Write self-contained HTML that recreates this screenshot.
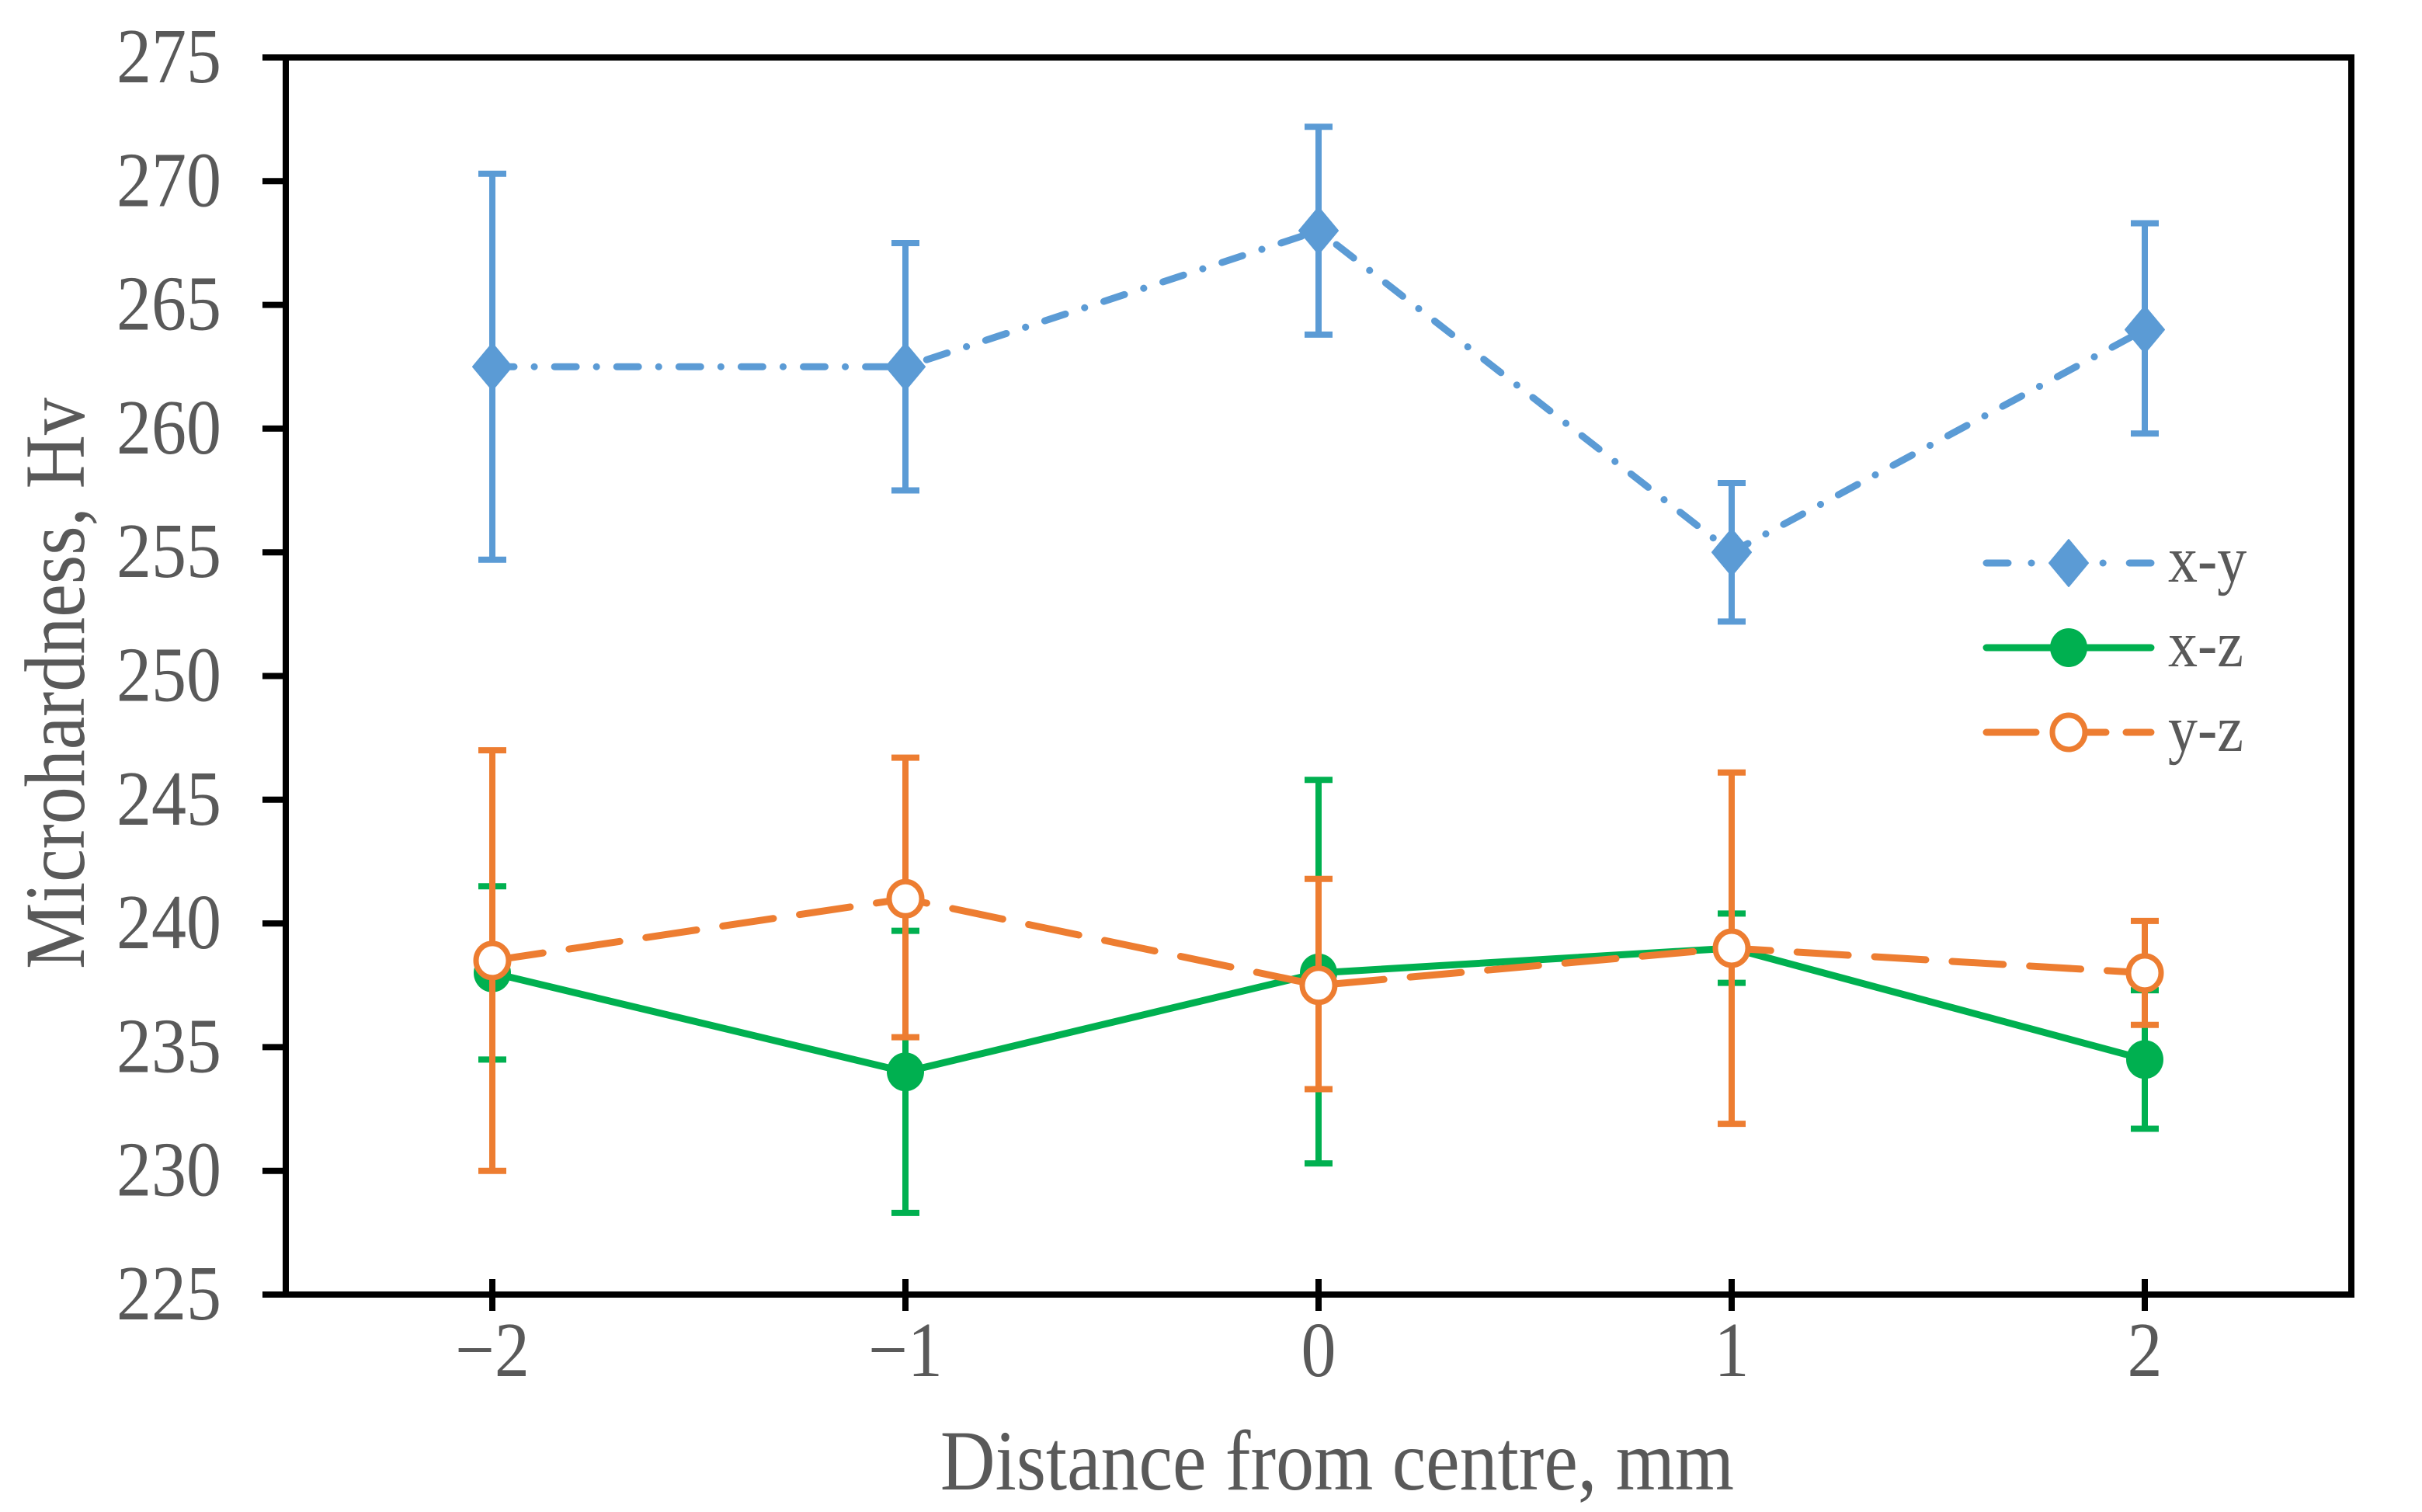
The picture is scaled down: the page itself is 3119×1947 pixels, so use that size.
<!DOCTYPE html>
<html><head><meta charset="utf-8"><style>
html,body{margin:0;padding:0;background:#fff}
svg text{font-family:"Liberation Serif","Times New Roman",serif;fill:#595959}
</style></head><body>
<svg id="chart" width="3119" height="1942" viewBox="0 0 3119 1942" xmlns="http://www.w3.org/2000/svg">
<g id="plot"></g>
</svg>
<script>
const categories=[-2,-1,0,1,2];
const xyValues=[262.5,262.5,268,255,264];
const xyLow=[254.7,257.5,263.8,252.2,259.8];
const xyHigh=[270.3,267.5,272.2,257.8,268.3];
const xzValues=[238,234,238,239,234.5];
const xzLow=[234.5,228.3,230.3,237.6,231.7];
const xzHigh=[241.5,239.7,245.8,240.4,237.3];
const yzValues=[238.5,241,237.5,239,238];
const yzLow=[230,235.4,233.3,231.9,235.9];
const yzHigh=[247,246.7,241.8,246.1,240.1];
const yTicks=[225,230,235,240,245,250,255,260,265,270,275];
const xTickLabels=["\u22122","\u22121","0","1","2"];

const L=368,R=3028,T=74,B=1667;
const xMin=-2.5,xMax=2.5,yMin=225,yMax=275;
const X=v=>L+(v-xMin)/(xMax-xMin)*(R-L);
const Y=v=>B-(v-yMin)/(yMax-yMin)*(B-T);
const NS="http://www.w3.org/2000/svg";
const g=document.getElementById('plot');
function mk(tag,attrs,parent){const e=document.createElementNS(NS,tag);for(const k in attrs)e.setAttribute(k,attrs[k]);(parent||g).appendChild(e);return e;}

const frame=mk('rect',{x:L,y:T,width:R-L,height:B-T,fill:'none',stroke:'#000','stroke-width':8});



yTicks.forEach(v=>{
  const t=mk('line',{x1:L-30,x2:L,y1:Y(v),y2:Y(v),stroke:'#000','stroke-width':8});
  
  
  const tx=mk('text',{x:0,y:0,'text-anchor':'end','font-size':90,transform:`translate(285,${Y(v)+32}) scale(1,1.12)`});
  tx.textContent=v;
  
  
});
categories.forEach((c,i)=>{
  const t=mk('line',{x1:X(c),x2:X(c),y1:B-20,y2:B+21,stroke:'#000','stroke-width':8});
  
  
  const tx=mk('text',{x:0,y:0,'text-anchor':'middle','font-size':90,transform:`translate(${X(c)},1772) scale(1,1.12)`});
  tx.textContent=xTickLabels[i];
  
  
});

const series=[
 {name:'x-y',vals:xyValues,lo:xyLow,hi:xyHigh,color:'#5B9BD5',dash:'28 26 0.1 26',marker:'diamond'},
 {name:'x-z',vals:xzValues,lo:xzLow,hi:xzHigh,color:'#00B050',dash:'none',marker:'dot'},
 {name:'y-z',vals:yzValues,lo:yzLow,hi:yzHigh,color:'#ED7D31',dash:'66 34',marker:'ring'}
];
function marker(s,cx,cy,parent){
  let m;
  if(s.marker==='diamond') m=mk('path',{d:`M${cx} ${cy-30}L${cx+25} ${cy}L${cx} ${cy+30}L${cx-25} ${cy}Z`,fill:s.color,stroke:s.color,'stroke-width':2,'stroke-linejoin':'round'},parent);
  else if(s.marker==='dot') m=mk('ellipse',{cx:cx,cy:cy,rx:24,ry:25,fill:s.color},parent);
  else m=mk('ellipse',{cx:cx,cy:cy,rx:21,ry:22,fill:'#fff',stroke:s.color,'stroke-width':7},parent);
  return m;
}
series.forEach(s=>{
  const sg=mk('g',{});
  
  
  categories.forEach((c,i)=>{
    const e=mk('path',{d:`M${X(c)} ${Y(s.lo[i])}V${Y(s.hi[i])}M${X(c)-18} ${Y(s.lo[i])}h36M${X(c)-18} ${Y(s.hi[i])}h36`,stroke:s.color,'stroke-width':8,fill:'none'},sg);
    
    
  });
  const pts=categories.map((c,i)=>X(c)+','+Y(s.vals[i])).join(' ');
  const ln=mk('polyline',{points:pts,fill:'none',stroke:s.color,'stroke-width':9,'stroke-linecap':'round','stroke-linejoin':'round','stroke-dasharray':s.dash},sg);
  
  
  categories.forEach((c,i)=>{
    const m=marker(s,X(c),Y(s.vals[i]),sg);
    
    
  });
});

const lg=mk('g',{});


series.forEach((s,i)=>{
  const y=[725,834,943][i];
  const ln=mk('line',{x1:2558,x2:2770,y1:y,y2:y,stroke:s.color,'stroke-width':9,'stroke-linecap':'round','stroke-dasharray':s.dash==='none'?'none':(s.marker==='diamond'?'28 30 0.1 34':'64 26')},lg);
  
  
  const m=marker(s,2664,y,lg);
  
  
  const tx=mk('text',{x:0,y:0,'font-size':76,transform:`translate(2792,${y+24}) scale(1,1.12)`},lg);
  tx.textContent=s.name;
  
  
});

const xt=mk('text',{x:0,y:0,'text-anchor':'middle','font-size':96,transform:'translate(1722,1918) scale(1.02,1.15)'});
xt.textContent='Distance from centre, mm';


const yt=mk('text',{x:0,y:0,'text-anchor':'middle','font-size':96,transform:'translate(108,880) rotate(-90) scale(1,1.15)'});
yt.textContent='Microhardness, Hv';


</script>
</body></html>
